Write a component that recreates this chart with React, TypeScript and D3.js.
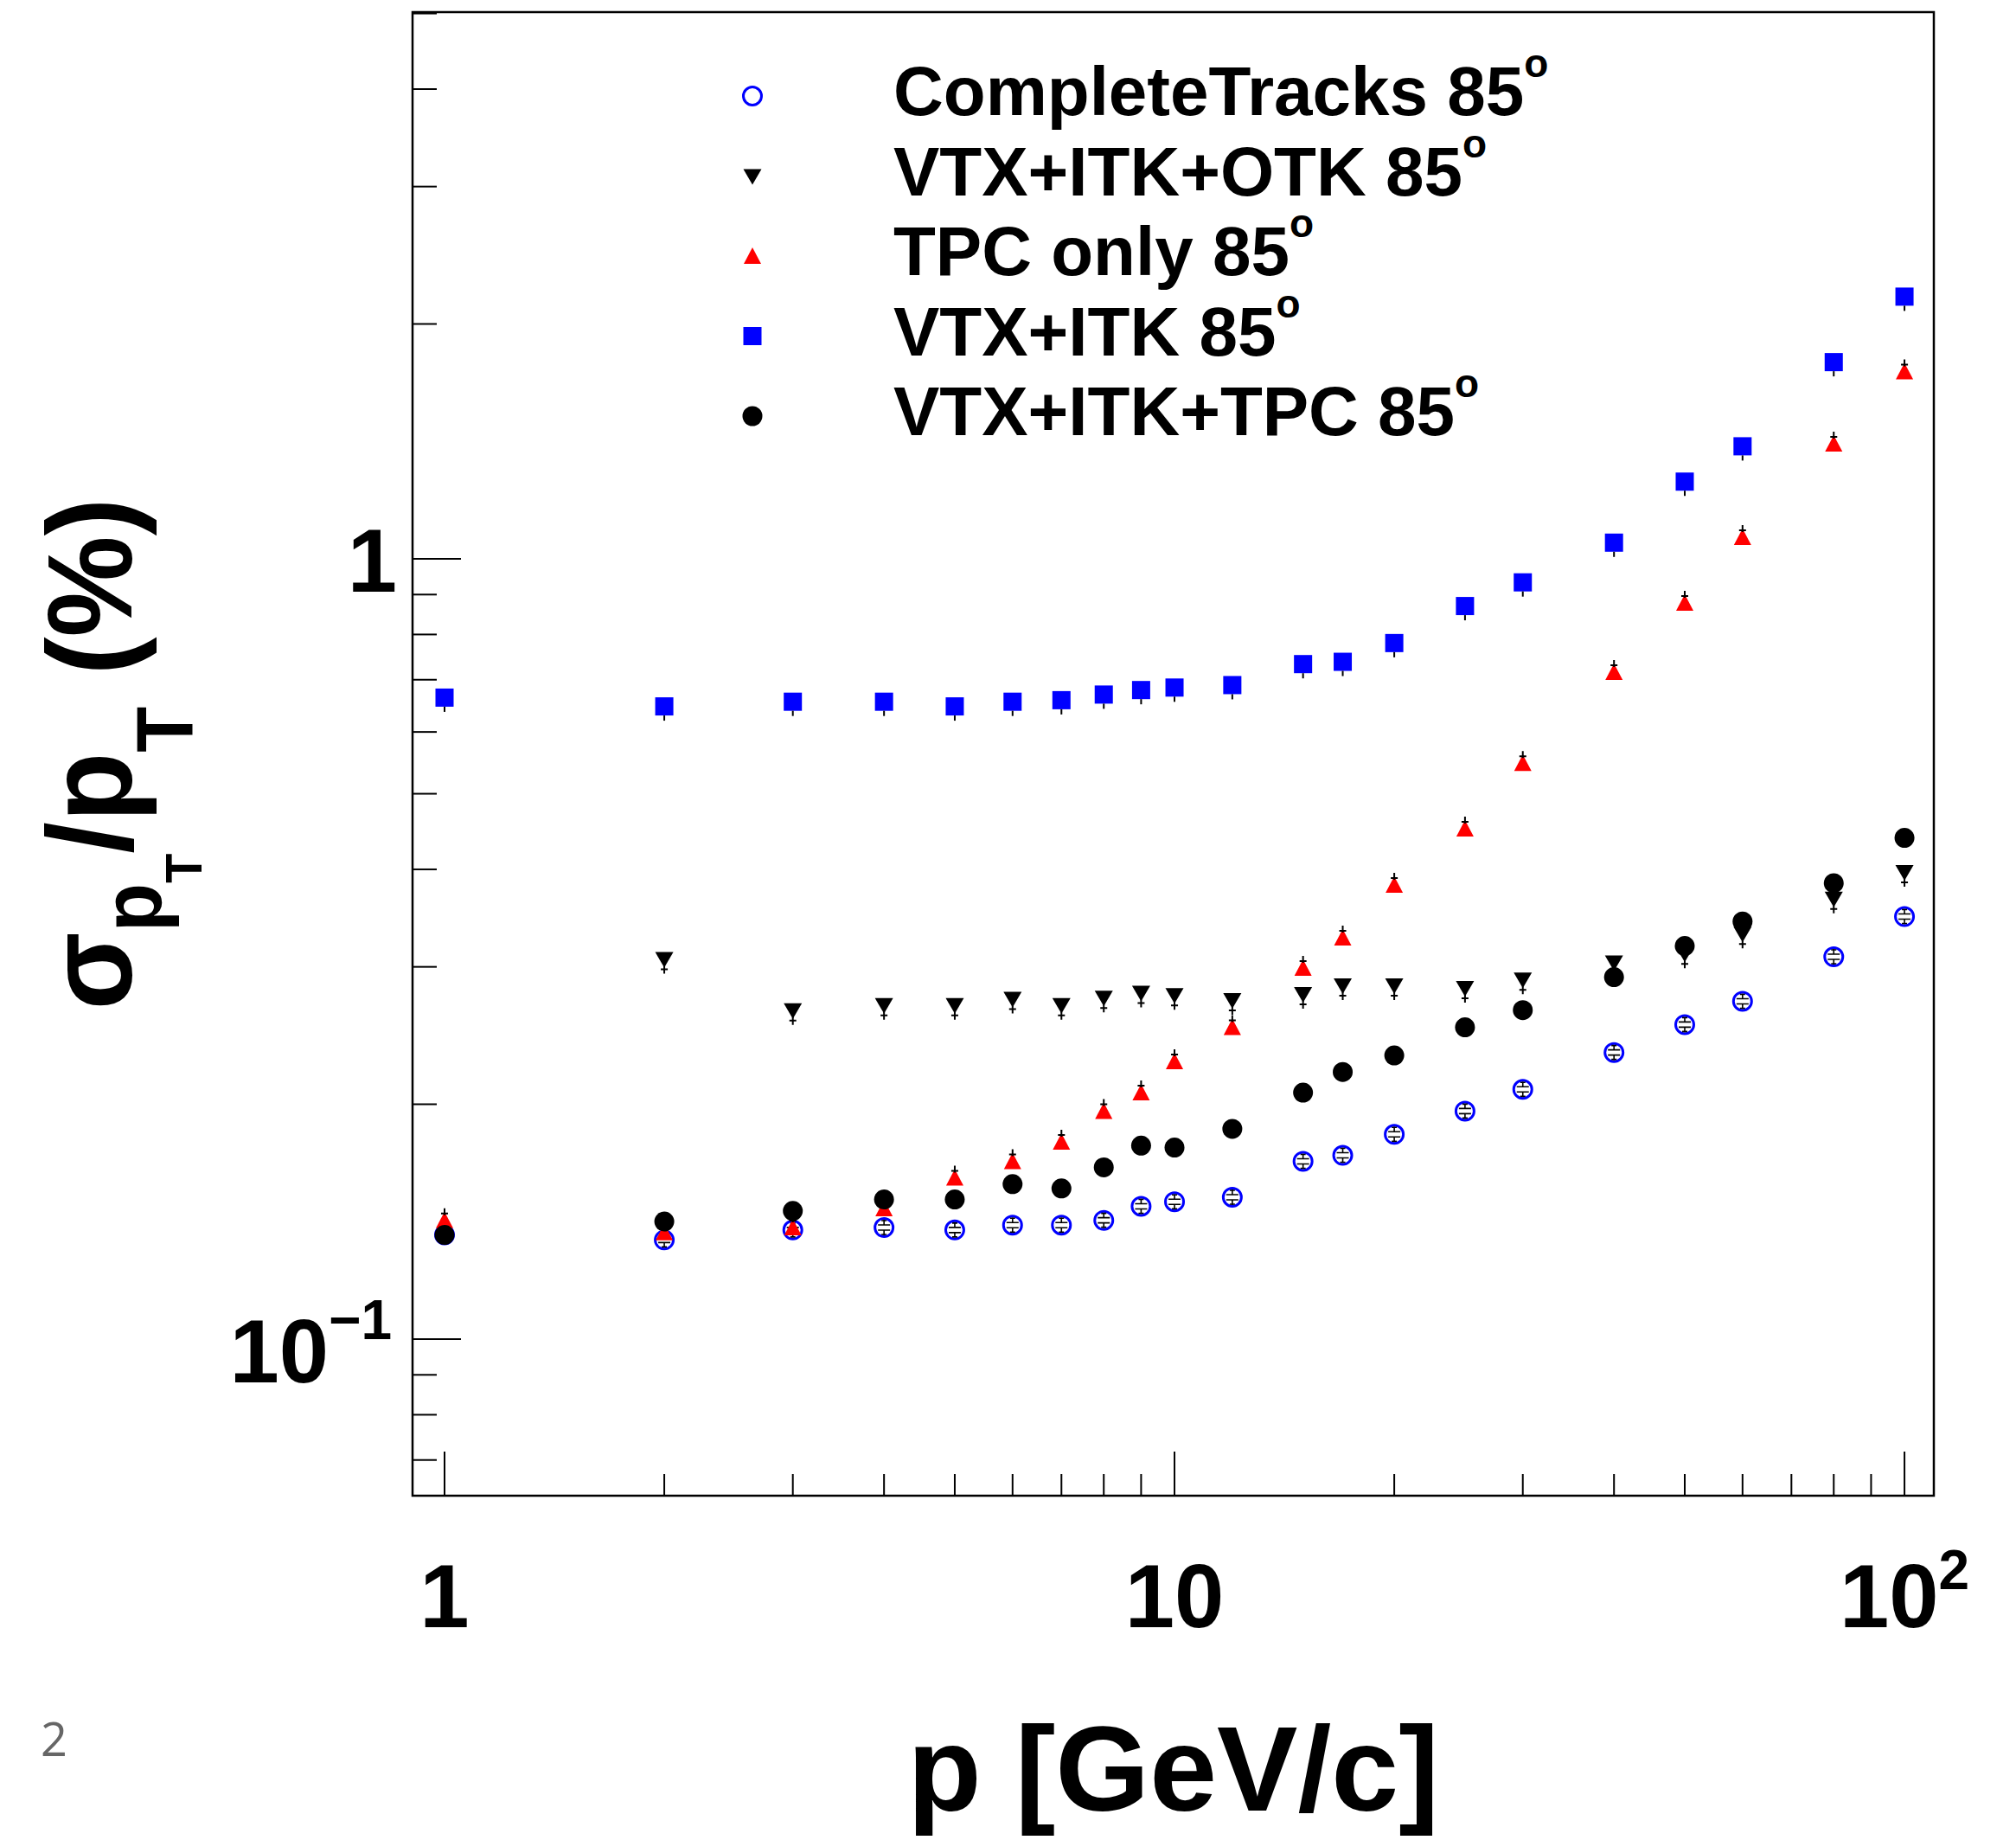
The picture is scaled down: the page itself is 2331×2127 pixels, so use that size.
import React from "react";
import * as d3 from "d3";

// ---------------- data ----------------
const pValues = [1, 2, 3, 4, 5, 6, 7, 8, 9, 10, 12, 15, 17, 20, 25, 30, 40, 50, 60, 80, 100];

const completeTracks = [0.136, 0.134, 0.138, 0.139, 0.138, 0.140, 0.140, 0.142, 0.148, 0.150, 0.152, 0.169, 0.172, 0.183, 0.196, 0.209, 0.233, 0.253, 0.271, 0.309, 0.348];
const vtxItkOtkP = [2, 3, 4, 5, 6, 7, 8, 9, 10, 12, 15, 17, 20, 25, 30, 40, 50, 60, 80, 100];
const vtxItkOtk = [0.307, 0.264, 0.268, 0.268, 0.273, 0.268, 0.274, 0.278, 0.276, 0.272, 0.277, 0.284, 0.284, 0.282, 0.289, 0.304, 0.312, 0.331, 0.367, 0.397];
const tpcOnly = [0.142, 0.137, 0.139, 0.147, 0.161, 0.169, 0.179, 0.196, 0.207, 0.227, 0.251, 0.299, 0.327, 0.382, 0.451, 0.547, 0.716, 0.878, 1.066, 1.404, 1.738];
const vtxItk = [0.664, 0.647, 0.656, 0.656, 0.647, 0.656, 0.659, 0.670, 0.679, 0.684, 0.689, 0.733, 0.738, 0.780, 0.870, 0.933, 1.049, 1.256, 1.394, 1.787, 2.168];
const vtxItkTpc = [0.136, 0.1415, 0.146, 0.151, 0.151, 0.158, 0.156, 0.166, 0.177, 0.176, 0.186, 0.207, 0.220, 0.231, 0.251, 0.264, 0.291, 0.319, 0.343, 0.384, 0.439];

const legendLabels = ["CompleteTracks 85", "VTX+ITK+OTK 85", "TPC only 85", "VTX+ITK 85", "VTX+ITK+TPC 85"];
const xDomain = [0.904, 109.7];
const yDomain = [0.063, 5.02];

type MarkerKind = "openCircle" | "triangleDown" | "triangleUp" | "square" | "dot";

const seriesList: { name: string; xs: number[]; ys: number[]; kind: MarkerKind; color: string }[] = [
  { name: legendLabels[0], xs: pValues, ys: completeTracks, kind: "openCircle", color: "#0000ff" },
  { name: legendLabels[1], xs: vtxItkOtkP, ys: vtxItkOtk, kind: "triangleDown", color: "#000000" },
  { name: legendLabels[2], xs: pValues, ys: tpcOnly, kind: "triangleUp", color: "#ff0000" },
  { name: legendLabels[3], xs: pValues, ys: vtxItk, kind: "square", color: "#0000ff" },
  { name: legendLabels[4], xs: pValues, ys: vtxItkTpc, kind: "dot", color: "#000000" },
];

// ---------------- layout ----------------
const W = 2331;
const H = 2127;
const L = 477, R = 2236, T = 14, B = 1729;
const FONT = "'Liberation Sans', Arial, Helvetica, sans-serif";

function Marker({ kind, color, cx, cy, deco }: { kind: MarkerKind; color: string; cx: number; cy: number; deco: boolean }) {
  const s = 21;
  const h = s / 2;
  switch (kind) {
    case "openCircle":
      return (
        <g>
          <circle cx={cx} cy={cy} r={10.5} fill="none" stroke={color} strokeWidth={3} />
          {deco && (
            <path
              d={`M${cx - 7},${cy - 3}H${cx + 7}M${cx - 7},${cy + 3}H${cx + 7}M${cx},${cy - 3}V${cy - 9}M${cx - 3},${cy - 8}H${cx + 3}M${cx},${cy + 3}V${cy + 9}M${cx - 3},${cy + 8}H${cx + 3}`}
              stroke="#000"
              strokeWidth={1.6}
              fill="none"
            />
          )}
        </g>
      );
    case "triangleDown":
      return (
        <g>
          <path d={`M${cx - 10.5},${cy - 8}L${cx + 10.5},${cy - 8}L${cx},${cy + 10}Z`} fill={color} />
          {deco && <path d={`M${cx},${cy + 8}V${cy + 17}M${cx - 4},${cy + 12}H${cx + 4}`} stroke="#000" strokeWidth={2} />}
        </g>
      );
    case "triangleUp":
      return (
        <g>
          <path d={`M${cx - 10},${cy + 9}L${cx + 10},${cy + 9}L${cx},${cy - 10}Z`} fill={color} />
          {deco && <path d={`M${cx},${cy - 6}V${cy - 14}M${cx - 4},${cy - 8}H${cx + 4}`} stroke="#000" strokeWidth={2} />}
        </g>
      );
    case "square":
      return (
        <g>
          <rect x={cx - h} y={cy - h} width={s} height={s} fill={color} />
          {deco && <path d={`M${cx},${cy + h}V${cy + h + 6}`} stroke="#000" strokeWidth={2} />}
        </g>
      );
    case "dot":
    default:
      return <circle cx={cx} cy={cy} r={11.5} fill={color} />;
  }
}

export default function App() {
  const x = d3.scaleLog().domain(xDomain).range([L, R]);
  const y = d3.scaleLog().domain(yDomain).range([B, T]);

  const isMajor = (v: number) => Math.abs(Math.log10(v) - Math.round(Math.log10(v))) < 1e-9;
  const xTicks = x.ticks();
  const yTicks = y.ticks();

  const legendY0 = 133;
  const legendDy = 92.5;

  return (
    <svg
      width={W}
      height={H}
      viewBox={`0 0 ${W} ${H}`}
      style={{ position: "absolute", left: 0, top: 0, background: "#fff" }}
      fontFamily={FONT}
    >
      <rect x={0} y={0} width={W} height={H} fill="#fff" />

      {/* ticks */}
      {xTicks.map((t, i) => {
        const len = isMajor(t) ? 51 : 25;
        return <line key={"xt" + i} x1={x(t)} x2={x(t)} y1={B} y2={B - len} stroke="#000" strokeWidth={2} />;
      })}
      {yTicks.map((t, i) => {
        const len = isMajor(t) ? 56 : 28;
        return <line key={"yt" + i} x1={L} x2={L + len} y1={y(t)} y2={y(t)} stroke="#000" strokeWidth={2} />;
      })}

      {/* frame */}
      <rect x={L} y={T} width={R - L} height={B - T} fill="none" stroke="#000" strokeWidth={2.5} />

      {/* x tick labels */}
      <g fontWeight="bold" fontSize={103} textAnchor="middle">
        <text x={x(1)} y={1881}>1</text>
        <text x={x(10)} y={1881}>10</text>
        <text x={x(100)} y={1881}>
          10<tspan fontSize={64} dy={-44}>2</tspan>
        </text>
      </g>

      {/* y tick labels */}
      <g fontWeight="bold" fontSize={103} textAnchor="end">
        <text x={459} y={y(1) + 38}>1</text>
        <text x={453} y={y(0.1) + 50}>
          10<tspan fontSize={64} dy={-50}>−1</tspan>
        </text>
      </g>

      {/* axis titles */}
      <text x={(L + R) / 2} y={2093} fontWeight="bold" fontSize={140} textAnchor="middle">
        p [GeV/c]
      </text>
      <text
        transform={`translate(152, ${(T + B) / 2}) rotate(-90) scale(0.94, 1)`}
        fontWeight="bold"
        fontSize={140}
        textAnchor="middle"
      >
        <tspan>σ</tspan>
        <tspan fontSize={98} dy={35}>p</tspan>
        <tspan fontSize={60} dy={46}>T</tspan>
        <tspan dy={-81}>/p</tspan>
        <tspan fontSize={92} dy={71}>T</tspan>
        <tspan dy={-71}> (%)</tspan>
      </text>

      {/* data */}
      {seriesList.map((s, si) => (
        <g key={"s" + si}>
          {s.xs.map((xv, i) => (
            <Marker key={i} kind={s.kind} color={s.color} cx={x(xv)} cy={y(s.ys[i])} deco={true} />
          ))}
        </g>
      ))}

      {/* legend */}
      {seriesList.map((s, i) => {
        const by = legendY0 + i * legendDy;
        return (
          <g key={"lg" + i}>
            <Marker kind={s.kind} color={s.color} cx={870} cy={by - 22} deco={false} />
            <text x={1033} y={by} fontWeight="bold" fontSize={80}>
              {s.name}
              <tspan fontSize={46} dy={-44}>o</tspan>
            </text>
          </g>
        );
      })}

      {/* page number */}
      <text x={47} y={2030} fontSize={54} fill="#666" fontFamily="'Open Sans', 'Liberation Sans', sans-serif">
        2
      </text>
    </svg>
  );
}
